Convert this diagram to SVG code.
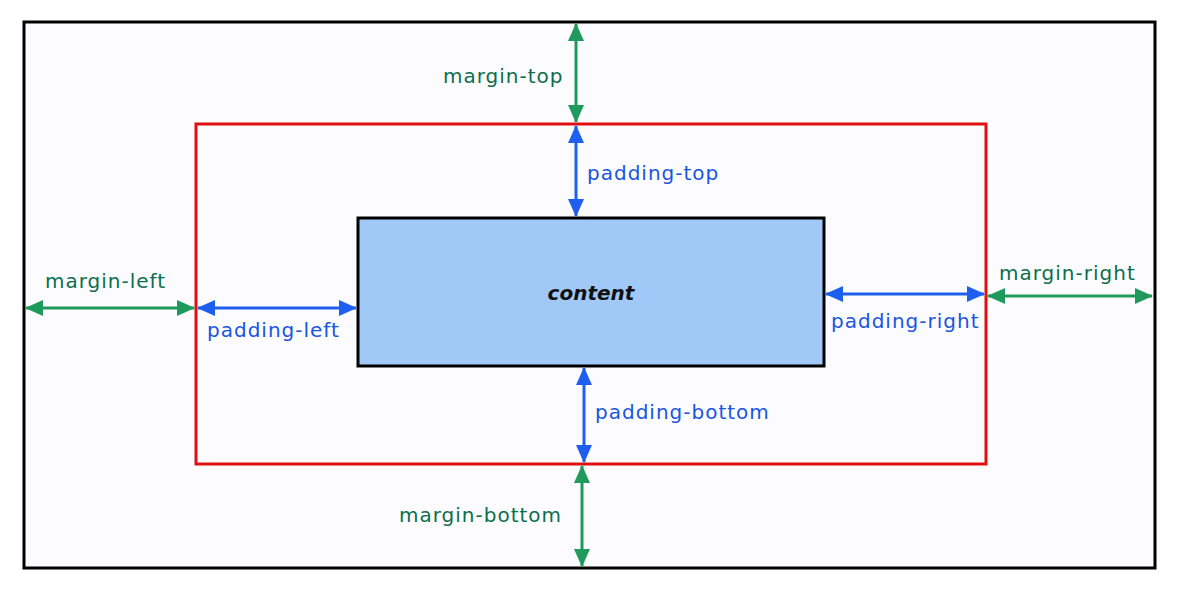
<svg xmlns="http://www.w3.org/2000/svg" width="1180" height="598" viewBox="0 0 1180 598">
<style>
.box{fill:none;stroke-width:3}
.g{stroke:#1f9a5c;stroke-width:3;fill:none}
.b{stroke:#1f5ff0;stroke-width:3;fill:none}
.tg{font-family:"DejaVu Sans",sans-serif;font-size:20px;letter-spacing:1px;fill:#0d6e4c}
.tb{font-family:"DejaVu Sans",sans-serif;font-size:20px;letter-spacing:1px;fill:#1a55e0}
.tc{font-family:"DejaVu Sans",sans-serif;font-size:20px;font-style:italic;font-weight:bold;fill:#111}
</style>
<defs>
<marker id="ag" markerUnits="userSpaceOnUse" markerWidth="18" markerHeight="18" refX="17" refY="9" orient="auto-start-reverse" viewBox="0 0 18 18"><path d="M0,1 L18,9 L0,17 Z" fill="#1f9a5c"/></marker>
<marker id="ab" markerUnits="userSpaceOnUse" markerWidth="18" markerHeight="18" refX="17" refY="9" orient="auto-start-reverse" viewBox="0 0 18 18"><path d="M0,1 L18,9 L0,17 Z" fill="#1f5ff0"/></marker>
</defs>
<rect x="0" y="0" width="1180" height="598" fill="#ffffff"/>
<g id="margin-box"><rect class="box" x="24" y="22" width="1131" height="546" stroke="#000" style="fill:#fcfcfe"/></g>
<g id="border-box"><rect class="box" x="196" y="124" width="790" height="340" stroke="#e01010"/></g>
<g id="content"><rect x="358" y="218" width="466" height="148" fill="#a0c9f8" stroke="#000" stroke-width="3"/><text class="tc" x="591" y="300" text-anchor="middle">content</text></g>
<g id="connectors">
<line class="g" x1="576" y1="24" x2="576" y2="122" marker-start="url(#ag)" marker-end="url(#ag)"/>
<line class="b" x1="576" y1="126" x2="576" y2="216" marker-start="url(#ab)" marker-end="url(#ab)"/>
<line class="g" x1="26" y1="308" x2="194" y2="308" marker-start="url(#ag)" marker-end="url(#ag)"/>
<line class="b" x1="198" y1="308" x2="356" y2="308" marker-start="url(#ab)" marker-end="url(#ab)"/>
<line class="b" x1="826" y1="294" x2="984" y2="294" marker-start="url(#ab)" marker-end="url(#ab)"/>
<line class="g" x1="988" y1="296" x2="1152" y2="296" marker-start="url(#ag)" marker-end="url(#ag)"/>
<line class="b" x1="584" y1="368" x2="584" y2="462" marker-start="url(#ab)" marker-end="url(#ab)"/>
<line class="g" x1="582" y1="466" x2="582" y2="566" marker-start="url(#ag)" marker-end="url(#ag)"/>
</g>
<g id="labels">
<text class="tg" x="443" y="83">margin-top</text>
<text class="tb" x="587" y="180">padding-top</text>
<text class="tg" x="45" y="288">margin-left</text>
<text class="tb" x="207" y="337">padding-left</text>
<text class="tb" x="831" y="328">padding-right</text>
<text class="tg" x="999" y="280">margin-right</text>
<text class="tb" x="595" y="419">padding-bottom</text>
<text class="tg" x="399" y="522">margin-bottom</text>
</g>
</svg>
